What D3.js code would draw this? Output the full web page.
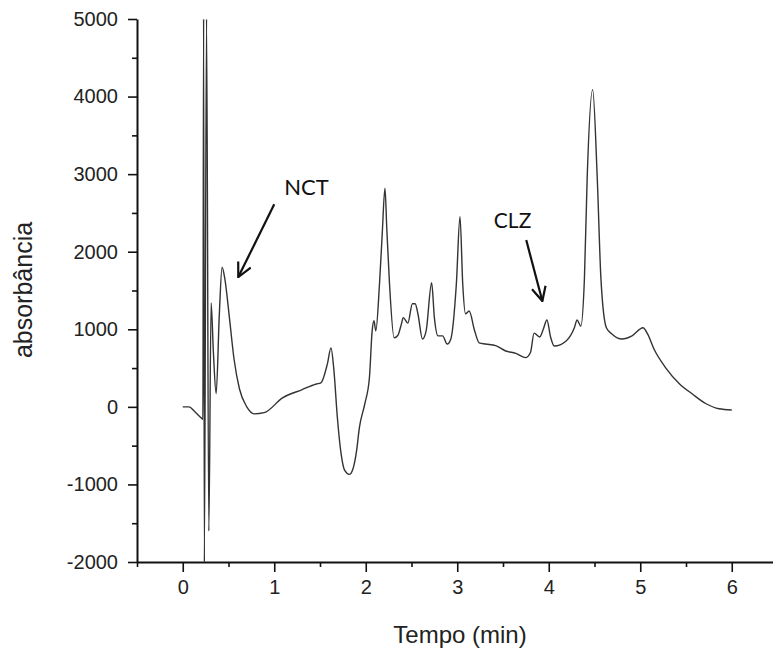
<!DOCTYPE html>
<html>
<head>
<meta charset="utf-8">
<script src="https://cdn.jsdelivr.net/npm/d3@7"></script>
<style>
  html, body { margin: 0; padding: 0; background: #fff; }
  svg { display: block; }
</style>
</head>
<body>
<div id="viz"></div>
<script>
// chromatogram trace: time (min) and absorbance
const times = [0.0, 0.07, 0.13, 0.2, 0.22, 0.228, 0.236, 0.26, 0.285, 0.31, 0.335, 0.365, 0.40, 0.43, 0.46,
  0.51, 0.56, 0.62, 0.7, 0.78, 0.89, 1.09, 1.3, 1.46, 1.51, 1.58, 1.62, 1.65, 1.69, 1.73, 1.77, 1.82, 1.86, 1.9,
  1.93, 1.99, 2.04, 2.07, 2.09, 2.11, 2.15, 2.18, 2.21, 2.23, 2.26, 2.31, 2.35, 2.39, 2.41, 2.46, 2.51, 2.54,
  2.57, 2.62, 2.66, 2.72, 2.75, 2.79, 2.84, 2.89, 2.93, 2.99, 3.03, 3.06, 3.09, 3.13, 3.19, 3.24, 3.31, 3.42,
  3.53, 3.64, 3.75, 3.8, 3.84, 3.9, 3.94, 3.98, 4.02, 4.06, 4.19, 4.28, 4.31, 4.35, 4.39, 4.42, 4.48, 4.53,
  4.57, 4.63, 4.69, 4.80, 4.91, 5.03, 5.08, 5.15, 5.28, 5.43, 5.57, 5.72, 5.86, 6.0];
const absorb = [0, 0, -60, -140, -160, 5000, -2000, 5000, -1600, 1340, 700, 170, 1200, 1800, 1650,
  1150, 620, 230, 0, -90, -75, 115, 220, 295, 310, 550, 760, 500, -140, -600, -820, -870, -800, -565,
  -270, 40, 375, 980, 1110, 980, 1580, 2230, 2820, 2300, 1580, 890, 920, 1070, 1150, 1080, 1330, 1330,
  1200, 875, 980, 1600, 1150, 915, 915, 810, 875, 1580, 2450, 1580, 1200, 1235, 980, 825, 810, 790,
  720, 690, 635, 700, 950, 900, 1000, 1120, 900, 785, 850, 1020, 1120, 1040, 1660, 2950, 4090, 2950,
  1660, 1020, 940, 875, 915, 1020, 940, 745, 500, 295, 165, 40, -25, -40];

const xMajor = [0, 1, 2, 3, 4, 5, 6];
const xMinor = [-0.5, 0.5, 1.5, 2.5, 3.5, 4.5, 5.5, 6.5];
const yMajor = [-2000, -1000, 0, 1000, 2000, 3000, 4000, 5000];
const yMinor = [-1500, -500, 500, 1500, 2500, 3500, 4500];

// peak labels: text, label anchor, arrow tail, arrow head (data units)
const labels = [
  {text: "NCT", tx: 1.11, ty: 2730, x1: 1.0, y1: 2613, x2: 0.607, y2: 1673, size: 22},
  {text: "CLZ", tx: 3.40, ty: 2300, x1: 3.754, y1: 2150, x2: 3.93, y2: 1364, size: 21}
];

const width = 773;
const height = 652;

const svg = d3.select("#viz").append("svg")
  .attr("width", width)
  .attr("height", height);

const x = d3.scaleLinear().domain([-0.5, 6.5]).range([137, 777.5]);
const y = d3.scaleLinear().domain([-2000, 5000]).range([562, 19]);

const tickFont = "Liberation Sans, Arial, sans-serif";

// minor ticks first, then major axes
svg.append("g")
  .attr("transform", "translate(0,562)")
  .call(d3.axisBottom(x).tickValues(xMinor).tickSize(5).tickFormat(""))
  .call(g => g.select(".domain").remove());
svg.append("g")
  .attr("transform", "translate(137,0)")
  .call(d3.axisLeft(y).tickValues(yMinor).tickSize(5).tickFormat(""))
  .call(g => g.select(".domain").remove());

const xAxis = svg.append("g")
  .attr("transform", "translate(0,562)")
  .call(d3.axisBottom(x).tickValues(xMajor).tickSize(10).tickSizeOuter(0).tickPadding(8).tickFormat(d => String(d)));
const yAxis = svg.append("g")
  .attr("transform", "translate(137,0)")
  .call(d3.axisLeft(y).tickValues(yMajor).tickSize(9).tickSizeOuter(0).tickPadding(10).tickFormat(d => String(d)));

[xAxis, yAxis].forEach(ax => {
  ax.selectAll("text")
    .style("font-family", tickFont)
    .style("font-size", "20px")
    .attr("fill", "#222");
});
svg.selectAll(".domain").attr("stroke", "#111").attr("stroke-width", 2);
svg.selectAll(".tick line").attr("stroke", "#111").attr("stroke-width", 1.6);

// axis titles
svg.append("text")
  .attr("x", 460)
  .attr("y", 643)
  .attr("text-anchor", "middle")
  .style("font-family", tickFont)
  .style("font-size", "24px")
  .attr("fill", "#222")
  .text("Tempo (min)");

svg.append("text")
  .attr("transform", "translate(32,290) rotate(-90)")
  .attr("text-anchor", "middle")
  .style("font-family", tickFont)
  .style("font-size", "25px")
  .attr("fill", "#222")
  .text("absorbância");

// the trace
const trace = times.map((t, i) => ({t: t, v: absorb[i]}));
const line = d3.line()
  .x(d => x(d.t))
  .y(d => y(d.v))
  .curve(d3.curveMonotoneX);

svg.append("path")
  .datum(trace)
  .attr("d", line)
  .attr("fill", "none")
  .attr("stroke", "#333")
  .attr("stroke-width", 1.4);

// arrowhead
svg.append("defs").append("marker")
  .attr("id", "arrow")
  .attr("viewBox", "0 0 16 16")
  .attr("refX", 15)
  .attr("refY", 8)
  .attr("markerWidth", 16)
  .attr("markerHeight", 16)
  .attr("markerUnits", "userSpaceOnUse")
  .attr("orient", "auto")
  .append("path")
  .attr("d", "M1,1 L15,8 L1,15")
  .attr("fill", "none")
  .attr("stroke", "#111")
  .attr("stroke-width", 2.2);

svg.selectAll(".note-line")
  .data(labels)
  .enter()
  .append("line")
  .attr("class", "note-line")
  .attr("x1", d => x(d.x1))
  .attr("y1", d => y(d.y1))
  .attr("x2", d => x(d.x2))
  .attr("y2", d => y(d.y2))
  .attr("stroke", "#111")
  .attr("stroke-width", 2.2)
  .attr("marker-end", "url(#arrow)");

svg.selectAll(".note-text")
  .data(labels)
  .enter()
  .append("text")
  .attr("class", "note-text")
  .attr("x", d => x(d.tx))
  .attr("y", d => y(d.ty))
  .style("font-family", "Lato, 'Open Sans', sans-serif")
  .style("font-size", d => d.size + "px")
  .attr("fill", "#111")
  .text(d => d.text);
</script>
</body>
</html>
